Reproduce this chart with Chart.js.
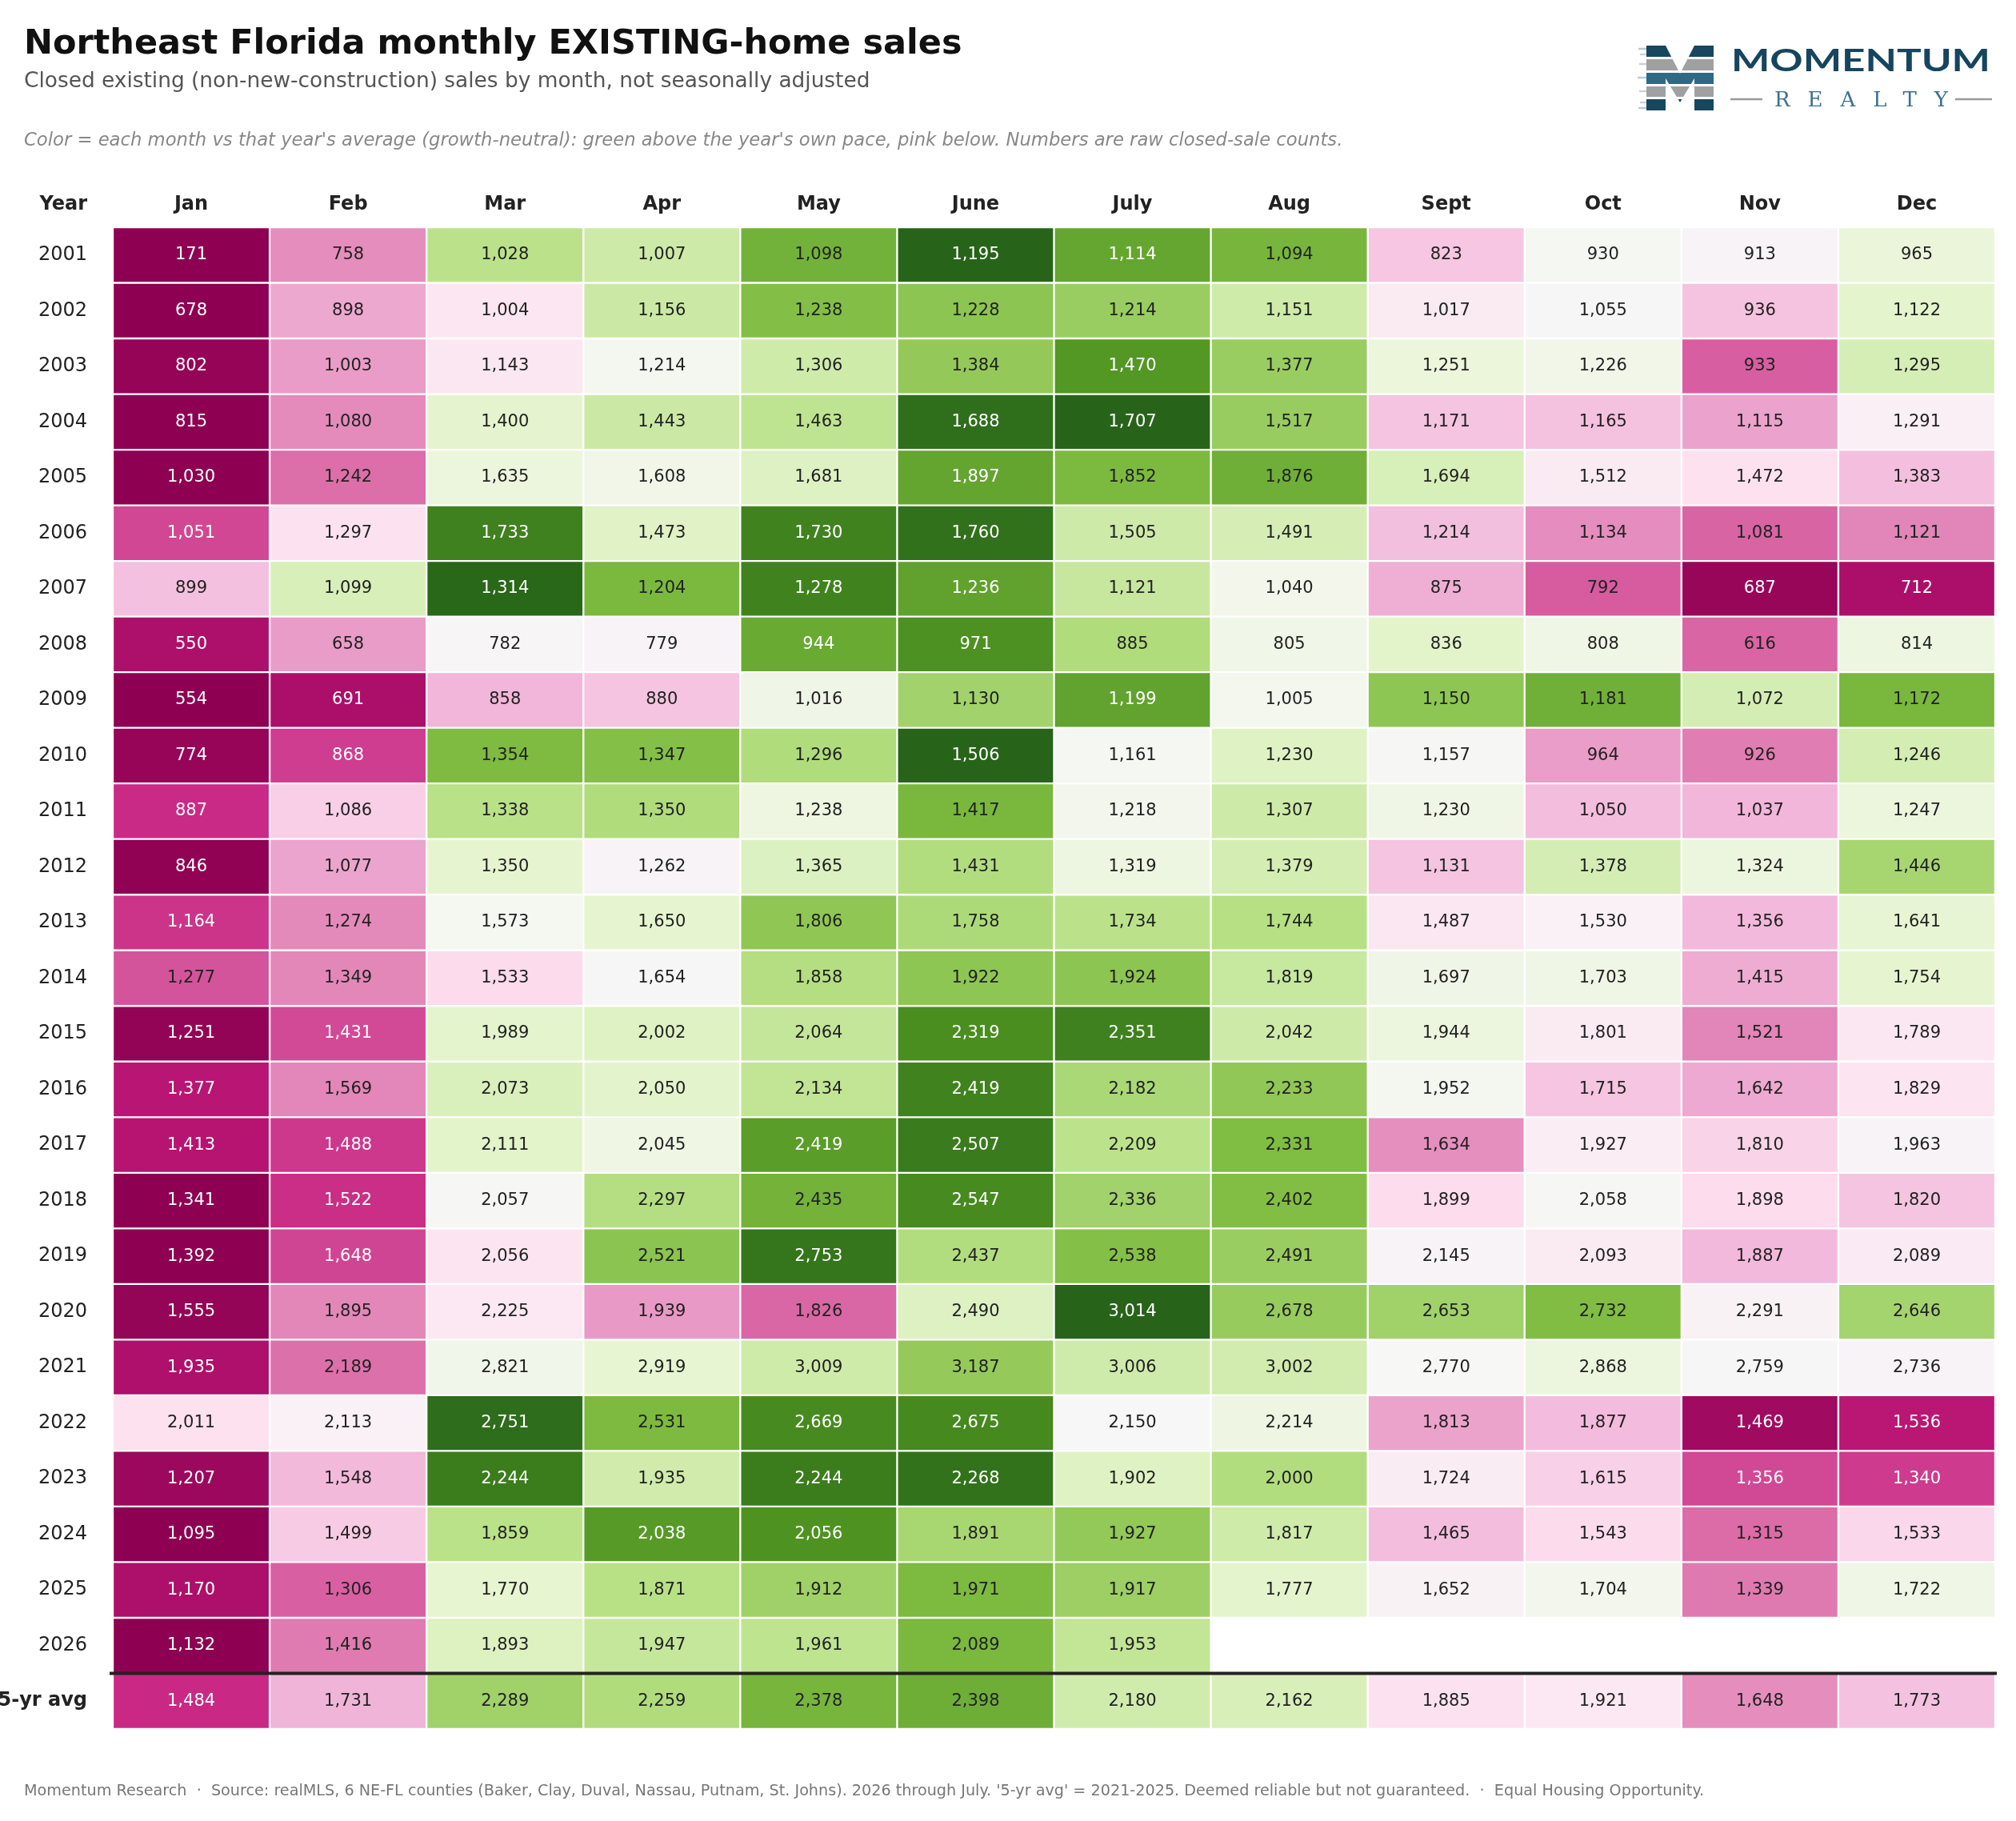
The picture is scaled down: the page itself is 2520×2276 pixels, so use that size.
<!DOCTYPE html>
<html>
<head>
<meta charset="utf-8">
<script src="https://cdn.jsdelivr.net/npm/chart.js@4.4.1/dist/chart.umd.min.js"></script>
<style>
  html, body { margin: 0; padding: 0; background: #fff; }
  body { width: 2520px; height: 2276px; position: relative; overflow: hidden; font-family: "DejaVu Sans", sans-serif; }
  #wrap { position: absolute; left: 0; top: 0; width: 2520px; height: 2276px; }
  .t { position: absolute; white-space: nowrap; line-height: 1; }
  #title { left: 30px; top: 31px; font-size: 43px; font-weight: bold; color: #111; }
  #sub { left: 30px; top: 87px; font-size: 26.4px; color: #555; }
  #note { left: 30px; top: 163px; font-size: 22.7px; font-style: italic; color: #888; }
  #yearHead { left: 0; width: 109px; text-align: right; top: 242px; font-size: 24px; font-weight: bold; color: #222; }
  #foot { left: 30px; top: 2228px; font-size: 19.2px; color: #777; }
  #logo { position: absolute; left: 2030px; top: 40px; }
</style>
</head>
<body>
<div id="wrap"><canvas id="heat"></canvas></div>
<div class="t" id="title">Northeast Florida monthly EXISTING-home sales</div>
<div class="t" id="sub">Closed existing (non-new-construction) sales by month, not seasonally adjusted</div>
<div class="t" id="note">Color = each month vs that year's average (growth-neutral): green above the year's own pace, pink below. Numbers are raw closed-sale counts.</div>
<div class="t" id="yearHead">Year</div>
<div class="t" id="foot">Momentum Research &nbsp;·&nbsp; Source: realMLS, 6 NE-FL counties (Baker, Clay, Duval, Nassau, Putnam, St. Johns). 2026 through July. '5-yr avg' = 2021-2025. Deemed reliable but not guaranteed. &nbsp;·&nbsp; Equal Housing Opportunity.</div>

<svg id="logo" width="480" height="110" viewBox="0 0 480 110">
  <defs>
    <clipPath id="mclip">
      <polygon points="28,17 52,17 70,52 88,17 112,17 112,98 88,98 88,58 70,88 52,58 52,98 28,98"/>
    </clipPath>
  </defs>
  <g clip-path="url(#mclip)">
    <rect x="18" y="17" width="94" height="14" fill="#17465f"/>
    <rect x="18" y="34" width="94" height="14" fill="#a0a0a0"/>
    <rect x="18" y="51" width="94" height="14" fill="#2f6985"/>
    <rect x="18" y="68" width="94" height="13" fill="#a0a0a0"/>
    <rect x="18" y="84" width="94" height="14" fill="#17465f"/>
  </g>
  <g stroke-width="2.5">
    <line x1="18" y1="21" x2="28" y2="21" stroke="#b9c9d2"/>
    <line x1="20" y1="28" x2="28" y2="28" stroke="#c9d5dc"/>
    <line x1="19" y1="40" x2="28" y2="40" stroke="#d0d0d0"/>
    <line x1="17" y1="57" x2="28" y2="57" stroke="#b9cbd5"/>
    <line x1="19" y1="74" x2="28" y2="74" stroke="#d0d0d0"/>
    <line x1="20" y1="88" x2="28" y2="88" stroke="#c9d5dc"/>
    <line x1="18" y1="95" x2="28" y2="95" stroke="#b9c9d2"/>
  </g>
  <text x="134" y="49" font-family="Lato, 'Noto Sans', sans-serif" font-weight="bold" font-size="39" fill="#164560" textLength="324" lengthAdjust="spacingAndGlyphs">MOMENTUM</text>
  <line x1="133" y1="84" x2="173" y2="84" stroke="#9a9a9a" stroke-width="2.5"/>
  <line x1="414" y1="84" x2="460" y2="84" stroke="#9a9a9a" stroke-width="2.5"/>
  <text x="188" y="93" font-family="'DejaVu Serif', 'Liberation Serif', serif" font-size="26" fill="#3b7190" textLength="217" lengthAdjust="spacing">REALTY</text>
</svg>

<script>
// month columns and row labels
const months = ["Jan", "Feb", "Mar", "Apr", "May", "June", "July", "Aug", "Sept", "Oct", "Nov", "Dec"];
const rowLabels = ["2001", "2002", "2003", "2004", "2005", "2006", "2007", "2008", "2009", "2010",
  "2011", "2012", "2013", "2014", "2015", "2016", "2017", "2018", "2019", "2020",
  "2021", "2022", "2023", "2024", "2025", "2026", "5-yr avg"];

// closed sales per month, one array per year
const y2001 = [171, 758, 1028, 1007, 1098, 1195, 1114, 1094, 823, 930, 913, 965];
const y2002 = [678, 898, 1004, 1156, 1238, 1228, 1214, 1151, 1017, 1055, 936, 1122];
const y2003 = [802, 1003, 1143, 1214, 1306, 1384, 1470, 1377, 1251, 1226, 933, 1295];
const y2004 = [815, 1080, 1400, 1443, 1463, 1688, 1707, 1517, 1171, 1165, 1115, 1291];
const y2005 = [1030, 1242, 1635, 1608, 1681, 1897, 1852, 1876, 1694, 1512, 1472, 1383];
const y2006 = [1051, 1297, 1733, 1473, 1730, 1760, 1505, 1491, 1214, 1134, 1081, 1121];
const y2007 = [899, 1099, 1314, 1204, 1278, 1236, 1121, 1040, 875, 792, 687, 712];
const y2008 = [550, 658, 782, 779, 944, 971, 885, 805, 836, 808, 616, 814];
const y2009 = [554, 691, 858, 880, 1016, 1130, 1199, 1005, 1150, 1181, 1072, 1172];
const y2010 = [774, 868, 1354, 1347, 1296, 1506, 1161, 1230, 1157, 964, 926, 1246];
const y2011 = [887, 1086, 1338, 1350, 1238, 1417, 1218, 1307, 1230, 1050, 1037, 1247];
const y2012 = [846, 1077, 1350, 1262, 1365, 1431, 1319, 1379, 1131, 1378, 1324, 1446];
const y2013 = [1164, 1274, 1573, 1650, 1806, 1758, 1734, 1744, 1487, 1530, 1356, 1641];
const y2014 = [1277, 1349, 1533, 1654, 1858, 1922, 1924, 1819, 1697, 1703, 1415, 1754];
const y2015 = [1251, 1431, 1989, 2002, 2064, 2319, 2351, 2042, 1944, 1801, 1521, 1789];
const y2016 = [1377, 1569, 2073, 2050, 2134, 2419, 2182, 2233, 1952, 1715, 1642, 1829];
const y2017 = [1413, 1488, 2111, 2045, 2419, 2507, 2209, 2331, 1634, 1927, 1810, 1963];
const y2018 = [1341, 1522, 2057, 2297, 2435, 2547, 2336, 2402, 1899, 2058, 1898, 1820];
const y2019 = [1392, 1648, 2056, 2521, 2753, 2437, 2538, 2491, 2145, 2093, 1887, 2089];
const y2020 = [1555, 1895, 2225, 1939, 1826, 2490, 3014, 2678, 2653, 2732, 2291, 2646];
const y2021 = [1935, 2189, 2821, 2919, 3009, 3187, 3006, 3002, 2770, 2868, 2759, 2736];
const y2022 = [2011, 2113, 2751, 2531, 2669, 2675, 2150, 2214, 1813, 1877, 1469, 1536];
const y2023 = [1207, 1548, 2244, 1935, 2244, 2268, 1902, 2000, 1724, 1615, 1356, 1340];
const y2024 = [1095, 1499, 1859, 2038, 2056, 1891, 1927, 1817, 1465, 1543, 1315, 1533];
const y2025 = [1170, 1306, 1770, 1871, 1912, 1971, 1917, 1777, 1652, 1704, 1339, 1722];
const y2026 = [1132, 1416, 1893, 1947, 1961, 2089, 1953, null, null, null, null, null];
const avg5 = [1484, 1731, 2289, 2259, 2378, 2398, 2180, 2162, 1885, 1921, 1648, 1773];

const rows = [y2001, y2002, y2003, y2004, y2005, y2006, y2007, y2008, y2009, y2010,
  y2011, y2012, y2013, y2014, y2015, y2016, y2017, y2018, y2019, y2020,
  y2021, y2022, y2023, y2024, y2025, y2026, avg5];

// PiYG colormap; green end at +29% vs row mean, pink end at -34%
const UP = 0.29, DOWN = 0.34;
const stops = ["#8e0152", "#c51b7d", "#de77ae", "#f1b6da", "#fde0ef", "#f7f7f7",
  "#e6f5d0", "#b8e186", "#7fbc41", "#4d9221", "#276419"];

function hexRgb(h) {
  return [parseInt(h.slice(1, 3), 16), parseInt(h.slice(3, 5), 16), parseInt(h.slice(5, 7), 16)];
}
function piyg(t) {
  t = Math.max(0, Math.min(1, t));
  const p = t * 10;
  const i = Math.min(9, Math.floor(p));
  const f = p - i;
  const a = hexRgb(stops[i]), b = hexRgb(stops[i + 1]);
  const c = a.map((v, k) => Math.round(v + (b[k] - v) * f));
  return "rgb(" + c.join(",") + ")";
}
function deviations(row) {
  const v = row.filter(x => x != null);
  const m = v.reduce((s, x) => s + x, 0) / v.length;
  return row.map(x => x == null ? null : (x - m) / m);
}
function norm(d) {
  return 0.5 + (d >= 0 ? d / UP : d / DOWN) / 2;
}

const datasets = rows.map((row, r) => {
  const dev = deviations(row);
  return {
    label: rowLabels[r],
    data: row.map(v => v == null ? null : [r, r + 1]),
    raw: row,
    dev: dev,
    backgroundColor: dev.map(d => d == null ? "rgba(0,0,0,0)" : piyg(norm(d))),
    borderColor: "#ffffff",
    borderWidth: 1.5,
    borderSkipped: false,
    grouped: false,
    barPercentage: 1,
    categoryPercentage: 1
  };
});

// numbers in the cells + the rule above the average row
const cellText = {
  id: "cellText",
  afterDatasetsDraw(chart) {
    const c = chart.ctx;
    c.save();
    c.font = '21px "DejaVu Sans"';
    c.textAlign = "center";
    c.textBaseline = "middle";
    chart.data.datasets.forEach((ds, di) => {
      chart.getDatasetMeta(di).data.forEach((el, i) => {
        const v = ds.raw[i];
        if (v == null) return;
        const far = Math.abs(norm(ds.dev[i]) - 0.5) > 0.343;
        c.fillStyle = far ? "#ffffff" : "#222222";
        c.fillText(v.toLocaleString("en-US"), el.x, (el.y + el.base) / 2);
      });
    });
    const yy = chart.scales.y.getPixelForValue(26);
    c.strokeStyle = "#222";
    c.lineWidth = 4;
    c.beginPath();
    c.moveTo(chart.chartArea.left - 4, yy);
    c.lineTo(chart.chartArea.right + 2, yy);
    c.stroke();
    c.restore();
  }
};

new Chart(document.getElementById("heat"), {
  type: "bar",
  data: { labels: months, datasets: datasets },
  plugins: [cellText],
  options: {
    responsive: true,
    maintainAspectRatio: false,
    devicePixelRatio: 1,
    animation: false,
    layout: { padding: { left: 0, top: 0, right: 26, bottom: 115 } },
    plugins: { legend: { display: false }, tooltip: { enabled: false } },
    scales: {
      x: {
        type: "category",
        position: "top",
        grid: { display: false },
        border: { display: false },
        ticks: { color: "#222", padding: 6, font: { family: "DejaVu Sans", size: 24, weight: "bold" } },
        afterFit: s => { s.height = 284; }
      },
      y: {
        type: "linear",
        reverse: true,
        min: 0,
        max: 27,
        grid: { display: false },
        border: { display: false },
        afterBuildTicks: s => { s.ticks = rowLabels.map((l, i) => ({ value: i + 0.5 })); },
        ticks: {
          autoSkip: false,
          padding: 24,
          color: "#222",
          callback: (v, i) => rowLabels[i],
          font: ctx => ({ family: "DejaVu Sans", size: 24, weight: ctx.index === 26 ? "bold" : "normal" })
        },
        afterFit: s => { s.width = 141; }
      }
    }
  }
});
</script>
</body>
</html>
